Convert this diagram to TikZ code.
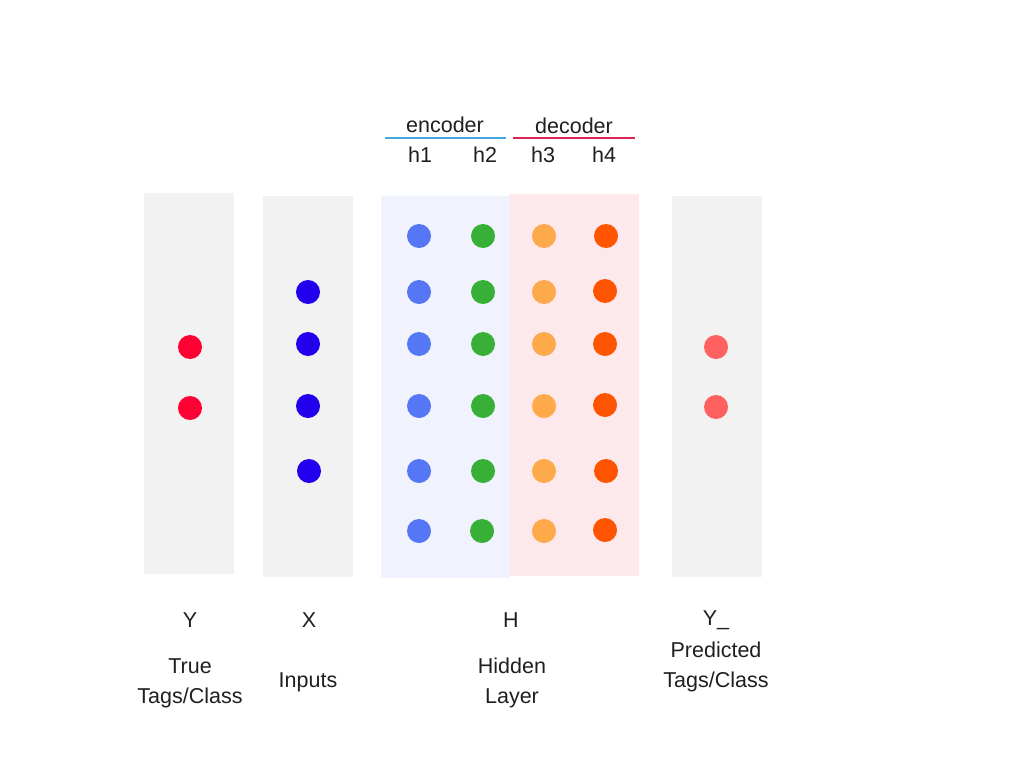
\documentclass[tikz,border=0pt]{standalone}
\usepackage{fontspec}
\setmainfont{Liberation Sans}
\usepackage{tikz}

\definecolor{panelgrey}{HTML}{F2F2F2}
\definecolor{encbg}{HTML}{F0F3FD}
\definecolor{decbg}{HTML}{FDE9EC}
\definecolor{encline}{HTML}{44AADD}
\definecolor{decline}{HTML}{DD2255}
\definecolor{ycol}{HTML}{FF0033}
\definecolor{xcol}{HTML}{2200EE}
\definecolor{honecol}{HTML}{5577F5}
\definecolor{htwocol}{HTML}{38B038}
\definecolor{hthreecol}{HTML}{FFAA4A}
\definecolor{hfourcol}{HTML}{FF5500}
\definecolor{ypcol}{HTML}{FF6060}

\tikzset{
  panel/.style={fill=panelgrey,minimum width=90pt,minimum height=381pt,inner sep=0pt},
  half/.style={minimum width=129pt,minimum height=382pt,inner sep=0pt},
  dot/.style={circle,fill=#1,minimum size=24pt,inner sep=0pt},
  lbl/.style={font=\fontsize{21.5}{30}\selectfont,align=center,text=black!88,inner sep=0pt}
}

\begin{document}
\begin{tikzpicture}[x=1pt,y=-1pt]
      \useasboundingbox (0,0) rectangle (1024,768);
      %% Panels
      \node[panel] (ypanel) at (189,383.5) {};
      \node[panel] (xpanel) at (308,386.5) {};
      \node[half,fill=encbg] (enc) at (445.5,387) {};
      \node[half,fill=decbg] (dec) at (574.5,385) {};
      \node[panel] (yppanel) at (717,386.5) {};
      %% Header
      \node[lbl] (enctext) at (445,125) {encoder};
      \node[lbl] (dectext) at (574,126) {decoder};
      \coordinate (encl) at (385,138);
      \coordinate (encr) at (506,138);
      \coordinate (decl) at (513,138);
      \coordinate (decr) at (635,138);
      \draw[encline,line width=2pt] (encl) -- (encr);
      \draw[decline,line width=2pt] (decl) -- (decr);
      \node[lbl] (h1text) at (420,155) {h1};
      \node[lbl] (h2text) at (485,155) {h2};
      \node[lbl] (h3text) at (543,155) {h3};
      \node[lbl] (h4text) at (604,155) {h4};
      %% Y
      \node[dot=ycol] (y1) at (190,347) {};
      \node[dot=ycol] (y2) at (190,408) {};
      %% X
      \node[dot=xcol] (x1) at (308,292) {};
      \node[dot=xcol] (x2) at (308,344) {};
      \node[dot=xcol] (x3) at (308,406) {};
      \node[dot=xcol] (x4) at (309,471) {};
      %% h1
      \node[dot=honecol] (a1) at (419,236) {};
      \node[dot=honecol] (a2) at (419,292) {};
      \node[dot=honecol] (a3) at (419,344) {};
      \node[dot=honecol] (a4) at (419,406) {};
      \node[dot=honecol] (a5) at (419,471) {};
      \node[dot=honecol] (a6) at (419,531) {};
      %% h2
      \node[dot=htwocol] (b1) at (483,236) {};
      \node[dot=htwocol] (b2) at (483,292) {};
      \node[dot=htwocol] (b3) at (483,344) {};
      \node[dot=htwocol] (b4) at (483,406) {};
      \node[dot=htwocol] (b5) at (483,471) {};
      \node[dot=htwocol] (b6) at (482,531) {};
      %% h3
      \node[dot=hthreecol] (c1) at (544,236) {};
      \node[dot=hthreecol] (c2) at (544,292) {};
      \node[dot=hthreecol] (c3) at (544,344) {};
      \node[dot=hthreecol] (c4) at (544,406) {};
      \node[dot=hthreecol] (c5) at (544,471) {};
      \node[dot=hthreecol] (c6) at (544,531) {};
      %% h4
      \node[dot=hfourcol] (d1) at (606,236) {};
      \node[dot=hfourcol] (d2) at (605,291) {};
      \node[dot=hfourcol] (d3) at (605,344) {};
      \node[dot=hfourcol] (d4) at (605,405) {};
      \node[dot=hfourcol] (d5) at (606,471) {};
      \node[dot=hfourcol] (d6) at (605,530) {};
      %% Y_
      \node[dot=ypcol] (p1) at (716,347) {};
      \node[dot=ypcol] (p2) at (716,407) {};
      %% Labels
      \node[lbl] (ylbl) at (190,620) {Y};
      \node[lbl] (xlbl) at (309,620) {X};
      \node[lbl] (hlbl) at (511,620) {H};
      \node[lbl] (yplbl) at (716,620) {Y\_};
      \node[lbl] (ydesc) at (190,683) {True\\Tags/Class};
      \node[lbl] (xdesc) at (308,682) {Inputs};
      \node[lbl] (hdesc) at (512,683) {Hidden\\Layer};
      \node[lbl] (ypdesc) at (716,667) {Predicted\\Tags/Class};
    \end{tikzpicture}
\end{document}
